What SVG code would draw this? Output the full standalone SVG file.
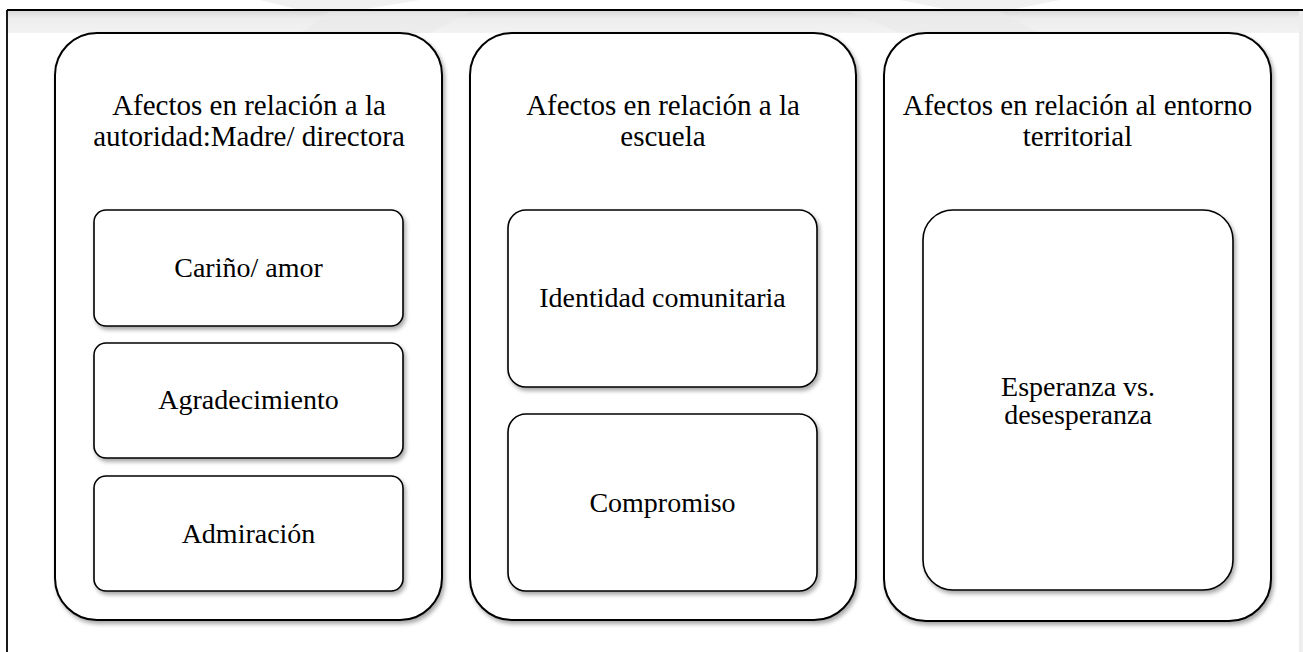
<svg xmlns="http://www.w3.org/2000/svg" width="1303" height="652" viewBox="0 0 1303 652">
<defs>
<filter id="sh" x="-10%" y="-10%" width="120%" height="120%">
<feDropShadow dx="2" dy="3" stdDeviation="2" flood-color="#000" flood-opacity="0.35"/>
</filter>
<linearGradient id="band" x1="0" y1="0" x2="0" y2="1">
<stop offset="0" stop-color="#d8d8d8"/>
<stop offset="0.3" stop-color="#ececec"/>
<stop offset="1" stop-color="#f3f3f3"/>
</linearGradient>
</defs>
<style>
.outer{fill:#fff;stroke:#000;stroke-width:2;filter:url(#sh)}
.inner{fill:#fff;stroke:#000;stroke-width:1.6;filter:url(#sh)}
.title{font-family:"Liberation Serif","Times New Roman",serif;font-size:29px;fill:#000;text-anchor:middle}
.lbl{font-family:"Liberation Serif","Times New Roman",serif;font-size:28px;fill:#000;text-anchor:middle}
.frame{stroke:#000;stroke-width:1.8;fill:none}
</style>
<rect x="0" y="0" width="1303" height="652" fill="#fff"/>
<g id="background">
<polygon points="260,0 420,0 360,10 300,10" fill="#f1f1f1"/>
<polygon points="900,0 1060,0 1010,10 950,10" fill="#f1f1f1"/>
<rect x="8" y="11" width="1295" height="22" fill="url(#band)"/>
<polygon points="330,12 470,12 430,33 300,33" fill="#e9e9e9" opacity="0.6"/>
<polygon points="850,12 1000,12 1040,33 900,33" fill="#e9e9e9" opacity="0.6"/>
<rect x="1299" y="11" width="4" height="641" fill="#eeeeee"/>
<line class="frame" x1="7" y1="10" x2="1303" y2="10"/>
<line class="frame" x1="7" y1="10" x2="7" y2="652"/>
</g>
<g id="connectors"></g>
<g id="col1">
<rect class="outer" x="55" y="33" width="387" height="587" rx="42" ry="42"/>
<text class="title" x="249" y="115">Afectos en relación a la</text>
<text class="title" x="249" y="146">autoridad:Madre/ directora</text>
</g>
<g id="carino">
<rect class="inner" x="94" y="210" width="309" height="116" rx="12" ry="12"/>
<text class="lbl" x="248.5" y="277">Cariño/ amor</text>
</g>
<g id="agradecimiento">
<rect class="inner" x="94" y="343" width="309" height="115" rx="12" ry="12"/>
<text class="lbl" x="248.5" y="409">Agradecimiento</text>
</g>
<g id="admiracion">
<rect class="inner" x="94" y="476" width="309" height="115" rx="12" ry="12"/>
<text class="lbl" x="248.5" y="543">Admiración</text>
</g>
<g id="col2">
<rect class="outer" x="470" y="33" width="386" height="587" rx="42" ry="42"/>
<text class="title" x="663" y="115">Afectos en relación a la</text>
<text class="title" x="663" y="146">escuela</text>
</g>
<g id="identidad">
<rect class="inner" x="508" y="210" width="309" height="177" rx="18" ry="18"/>
<text class="lbl" x="662.5" y="307">Identidad comunitaria</text>
</g>
<g id="compromiso">
<rect class="inner" x="508" y="414" width="309" height="177" rx="18" ry="18"/>
<text class="lbl" x="662.5" y="512">Compromiso</text>
</g>
<g id="col3">
<rect class="outer" x="884" y="33" width="387" height="588" rx="42" ry="42"/>
<text class="title" x="1077.5" y="115">Afectos en relación al entorno</text>
<text class="title" x="1077.5" y="146">territorial</text>
</g>
<g id="esperanza">
<rect class="inner" x="923" y="210" width="310" height="380" rx="30" ry="30"/>
<text class="lbl" x="1078" y="396">Esperanza vs.</text>
<text class="lbl" x="1078" y="424">desesperanza</text>
</g>
</svg>
